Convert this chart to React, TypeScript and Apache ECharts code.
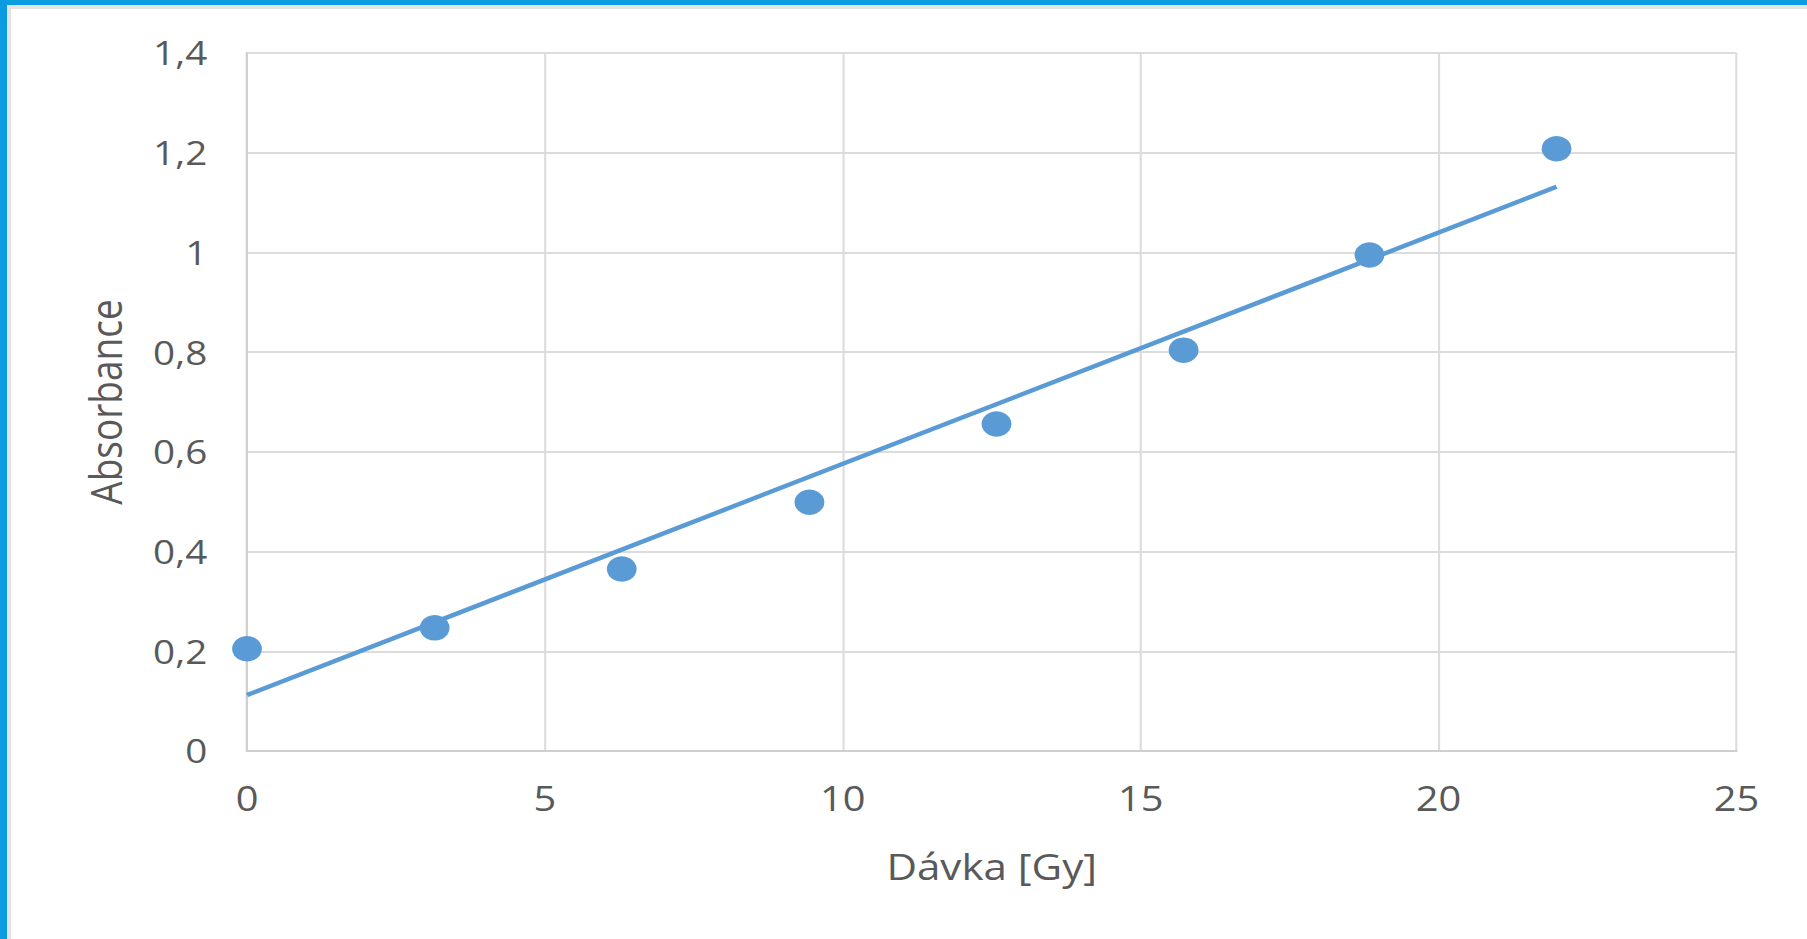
import React, { useEffect, useRef } from "react";
import * as echarts from "echarts";

const doseGy = [0, 3.15, 6.29, 9.44, 12.58, 15.72, 18.84, 21.98];
const absorbance = [0.205, 0.247, 0.365, 0.499, 0.656, 0.804, 0.995, 1.208];
const xTicks = [0, 5, 10, 15, 20, 25];
const yTicks = [0, 0.2, 0.4, 0.6, 0.8, 1, 1.2, 1.4];
const xTitle = "Dávka [Gy]";
const yTitle = "Absorbance";

// The reference picture is stretched horizontally (round markers appear as ellipses)
const STRETCH_X = 1.17;
const PAGE_W = 1807;
const PAGE_H = 939;

function linearFit(xs: number[], ys: number[]) {
  const n = xs.length;
  const mx = xs.reduce((a, b) => a + b, 0) / n;
  const my = ys.reduce((a, b) => a + b, 0) / n;
  let sxy = 0;
  let sxx = 0;
  for (let i = 0; i < n; i++) {
    sxy += (xs[i] - mx) * (ys[i] - my);
    sxx += (xs[i] - mx) * (xs[i] - mx);
  }
  const slope = sxy / sxx;
  return { slope, intercept: my - slope * mx };
}

export default function App() {
  const ref = useRef<HTMLDivElement>(null);
  const innerW = PAGE_W / STRETCH_X;
  useEffect(() => {
    if (!ref.current) return;
    const chart = echarts.init(ref.current, undefined, { renderer: "svg" });
    const fit = linearFit(doseGy, absorbance);
    const xMin = Math.min(...doseGy);
    const xMax = Math.max(...doseGy);
    const trend = [
      [xMin, fit.intercept + fit.slope * xMin],
      [xMax, fit.intercept + fit.slope * xMax],
    ];
    const font = "'Open Sans', 'Noto Sans', sans-serif";
    const gridLeft = 247 / STRETCH_X;
    const gridRight = innerW - 1737 / STRETCH_X;
    chart.setOption({
      animation: false,
      backgroundColor: "#ffffff",
      grid: { left: gridLeft, right: gridRight, top: 53, bottom: 188, containLabel: false },
      xAxis: {
        type: "value",
        min: xTicks[0],
        max: xTicks[xTicks.length - 1],
        interval: xTicks[1] - xTicks[0],
        name: xTitle,
        nameLocation: "middle",
        nameGap: 97,
        nameTextStyle: { color: "#595959", fontSize: 36, fontFamily: font },
        axisLine: { show: true, lineStyle: { color: "#CFCFCF", width: 2 } },
        axisTick: { show: false },
        axisLabel: { color: "#595959", fontSize: 34, fontFamily: font, margin: 30 },
        splitLine: { show: true, lineStyle: { color: "#DCDCDC", width: 1.8 } },
      },
      yAxis: {
        type: "value",
        min: yTicks[0],
        max: yTicks[yTicks.length - 1],
        interval: 0.2,
        name: yTitle,
        nameLocation: "middle",
        nameGap: 103,
        nameTextStyle: { color: "#595959", fontSize: 37, fontFamily: font },
        axisLine: { show: true, lineStyle: { color: "#CFCFCF", width: 1.8 } },
        axisTick: { show: false },
        axisLabel: {
          color: "#595959",
          fontSize: 33,
          fontFamily: font,
          margin: 34,
          formatter: (v: number) => String(Math.round(v * 10) / 10).replace(".", ","),
        },
        splitLine: { show: true, lineStyle: { color: "#DCDCDC", width: 2 } },
      },
      series: [
        {
          type: "line",
          data: trend,
          showSymbol: false,
          symbol: "none",
          lineStyle: { color: "#5B9BD5", width: 4.4 },
          z: 2,
        },
        {
          type: "scatter",
          data: doseGy.map((x, i) => [x, absorbance[i]]),
          symbol: "circle",
          symbolSize: 25.5,
          itemStyle: { color: "#5B9BD5", opacity: 1 },
          z: 3,
        },
      ],
    });
    return () => chart.dispose();
  }, []);
  return (
    <div
      style={{
        position: "fixed",
        left: 0,
        top: 0,
        width: PAGE_W,
        height: PAGE_H,
        overflow: "hidden",
        background: "#fff",
      }}
    >
      <div
        ref={ref}
        style={{
          position: "absolute",
          left: 0,
          top: 0,
          width: innerW,
          height: PAGE_H,
          transform: `scaleX(${STRETCH_X})`,
          transformOrigin: "0 0",
        }}
      />
      <div style={{ position: "absolute", left: 0, top: 0, width: PAGE_W, height: 9, background: "#E3E3E3" }} />
      <div style={{ position: "absolute", left: 0, top: 0, width: 11, height: PAGE_H, background: "#E3E3E3" }} />
      <div style={{ position: "absolute", left: 0, top: 0, width: PAGE_W, height: 5, background: "#0A9BE0" }} />
      <div style={{ position: "absolute", left: 0, top: 0, width: 7, height: PAGE_H, background: "#0A9BE0" }} />
    </div>
  );
}
